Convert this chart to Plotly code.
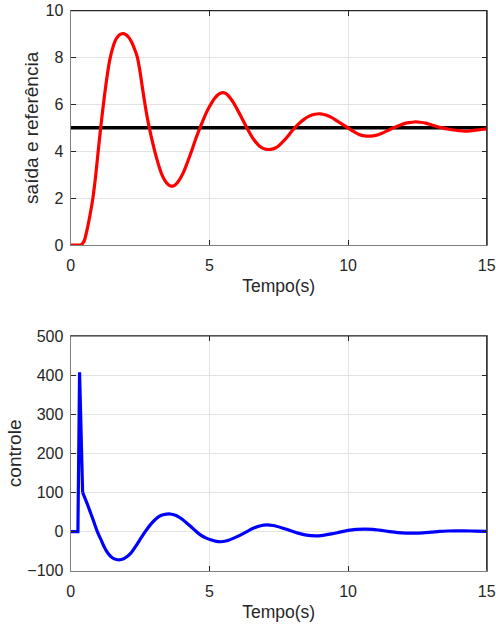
import plotly.graph_objects as go

# Output (saída)
t_out = [0, 0.3, 0.36, 0.4, 0.45, 0.5, 0.6, 0.7, 0.8, 0.9, 1.0, 1.1, 1.2, 1.3, 1.4, 1.5, 1.6, 1.7,
         1.8, 1.9, 2.0, 2.1, 2.2, 2.3, 2.4, 2.5, 2.6, 2.7, 2.8, 2.9, 3.0, 3.1, 3.2, 3.3, 3.4,
         3.5, 3.6, 3.7, 3.8, 3.9, 4.0, 4.1, 4.2, 4.3, 4.4, 4.5, 4.6, 4.7, 4.8, 4.9, 5.0, 5.1,
         5.2, 5.3, 5.4, 5.5, 5.6, 5.8, 6.0, 6.2, 6.4, 6.6, 6.8, 7.0, 7.2, 7.4, 7.6, 7.8, 8.0,
         8.2, 8.4, 8.6, 8.8, 9.0, 9.2, 9.4, 9.6, 9.8, 10.0, 10.2, 10.4, 10.6, 10.8, 11.0, 11.2,
         11.4, 11.6, 11.8, 12.0, 12.2, 12.4, 12.6, 12.8, 13.0, 13.2, 13.4, 13.6, 13.8, 14.0,
         14.2, 14.4, 14.6, 14.8, 15.0]
y_out = [0, 0, 0, 0.03, 0.1, 0.22, 0.7, 1.3, 2.0, 2.95, 4.1, 5.2, 6.2, 7.1, 7.85, 8.35, 8.7, 8.9,
         9.0, 9.02, 8.97, 8.85, 8.65, 8.37, 8.03, 7.4, 6.6, 5.85, 5.2, 4.65, 4.15, 3.7, 3.3, 2.97, 2.75,
         2.6, 2.52, 2.52, 2.6, 2.75, 2.95, 3.2, 3.5, 3.82, 4.15, 4.5, 4.82, 5.12, 5.4, 5.67, 5.9, 6.1,
         6.27, 6.4, 6.48, 6.5, 6.46, 6.2, 5.8, 5.35, 4.9, 4.5, 4.23, 4.1, 4.08, 4.15, 4.35, 4.6, 4.9,
         5.15, 5.35, 5.5, 5.58, 5.6, 5.55, 5.45, 5.3, 5.15, 5.0, 4.85, 4.72, 4.66, 4.65, 4.68, 4.76,
         4.87, 4.98, 5.08, 5.17, 5.22, 5.25, 5.24, 5.2, 5.13, 5.06, 5.0, 4.95, 4.91, 4.88,
         4.86, 4.87, 4.9, 4.93, 4.96]

# Reference
t_ref = [0, 15]
y_ref = [5, 5]

# Control signal
t_u_spike = [0, 0.26, 0.32, 0.43]
u_spike = [0, 0, 407, 100]
t_u = [0.43, 0.6, 0.72, 0.85, 0.96, 1.1, 1.2, 1.35, 1.5, 1.65, 1.78, 1.95, 2.17, 2.35, 2.53,
       2.7, 2.89, 3.05, 3.25, 3.45, 3.59, 3.8, 3.97, 4.15, 4.33, 4.5, 4.69, 4.87, 5.05, 5.25,
       5.42, 5.7, 6.0, 6.3, 6.6, 6.85, 7.07, 7.3, 7.6, 7.9, 8.2, 8.5, 8.82, 9.1, 9.4, 9.7,
       10.0, 10.3, 10.62, 10.9, 11.2, 11.5, 11.8, 12.1, 12.36, 12.7, 13.0, 13.3, 13.6, 13.9,
       14.2, 14.6, 15.0]
u = [100, 70, 47, 22, 0, -22, -38, -56, -67, -71.5, -72, -68, -55, -37, -17,
     1, 19, 31, 41, 44.5, 45, 41, 34, 24, 13, 2, -9, -16, -21, -25,
     -26, -22, -13, -2, 9, 15, 17, 15.5, 10, 3, -4, -9, -11, -9.5, -6, -1.5,
     3, 5.5, 6.5, 5.5, 3, 0, -2.5, -3.8, -4, -3.2, -1.5, 0.3, 1.5, 2,
     1.8, 1.2, 0.5]

x_ticks = [0, 5, 10, 15]
y1_ticks = [0, 2, 4, 6, 8, 10]
y2_ticks = [-100, 0, 100, 200, 300, 400, 500]

FONT = "Liberation Sans, Arial, sans-serif"
TXT = "#262626"

fig = go.Figure()
fig.add_trace(go.Scatter(x=t_ref, y=y_ref, mode="lines", line=dict(color="black", width=3.5),
                         xaxis="x", yaxis="y"))
fig.add_trace(go.Scatter(x=t_out, y=y_out, mode="lines", line=dict(color="#ff0000", width=3.2, shape="spline", smoothing=0.8),
                         xaxis="x", yaxis="y"))
fig.add_trace(go.Scatter(x=t_u_spike, y=u_spike, mode="lines", line=dict(color="#0000ff", width=3.2),
                         xaxis="x2", yaxis="y2"))
fig.add_trace(go.Scatter(x=t_u, y=u, mode="lines", line=dict(color="#0000ff", width=3.2, shape="spline", smoothing=0.8),
                         xaxis="x2", yaxis="y2"))

xd = [70.7 / 496, 486.7 / 496]
y1d = [1 - 245 / 626, 1 - 10.7 / 626]
y2d = [1 - 570.7 / 626, 1 - 336 / 626]

common = dict(showgrid=True, gridcolor="#e3e3e3", gridwidth=1, zeroline=False,
              showline=True, linecolor="#7f7f7f", linewidth=1.2, mirror="ticks",
              ticks="inside", ticklen=5, tickcolor="#262626", tickwidth=1,
              tickfont=dict(family=FONT, size=16, color=TXT), automargin=False)

xtitle = dict(text="Tempo(s)", font=dict(family=FONT, size=17.5, color=TXT), standoff=6)

fig.update_layout(
    width=496, height=626,
    margin=dict(l=0, r=0, t=0, b=0),
    paper_bgcolor="white", plot_bgcolor="white",
    showlegend=False,
    xaxis=dict(domain=xd, range=[0, 15], tickvals=x_ticks, anchor="y",
               title=xtitle, ticklabelstandoff=6, **common),
    yaxis=dict(domain=y1d, range=[0, 10], tickvals=y1_ticks, anchor="x",
               title=dict(text="saída e referência", font=dict(family=FONT, size=19, color=TXT), standoff=1),
               ticklabelstandoff=3, **common),
    xaxis2=dict(domain=xd, range=[0, 15], tickvals=x_ticks, anchor="y2",
                title=xtitle, ticklabelstandoff=6, **common),
    yaxis2=dict(domain=y2d, range=[-100, 500], tickvals=y2_ticks, anchor="x2",
                title=dict(text="controle", font=dict(family=FONT, size=19, color=TXT), standoff=0),
                ticklabelstandoff=3, **common),
)

# darker top/right box edges
for xa, ya in (("x", "y"), ("x2", "y2")):
    fig.add_shape(type="line", xref=f"{xa} domain", yref=f"{ya} domain", x0=0, x1=1, y0=1, y1=1,
                  line=dict(color="#262626", width=1.2))
    fig.add_shape(type="line", xref=f"{xa} domain", yref=f"{ya} domain", x0=1, x1=1, y0=0, y1=1,
                  line=dict(color="#262626", width=1.2))

fig.write_html("out.html", config={"displayModeBar": False},
               post_script="document.body.style.margin='0';document.body.style.overflow='hidden';")
